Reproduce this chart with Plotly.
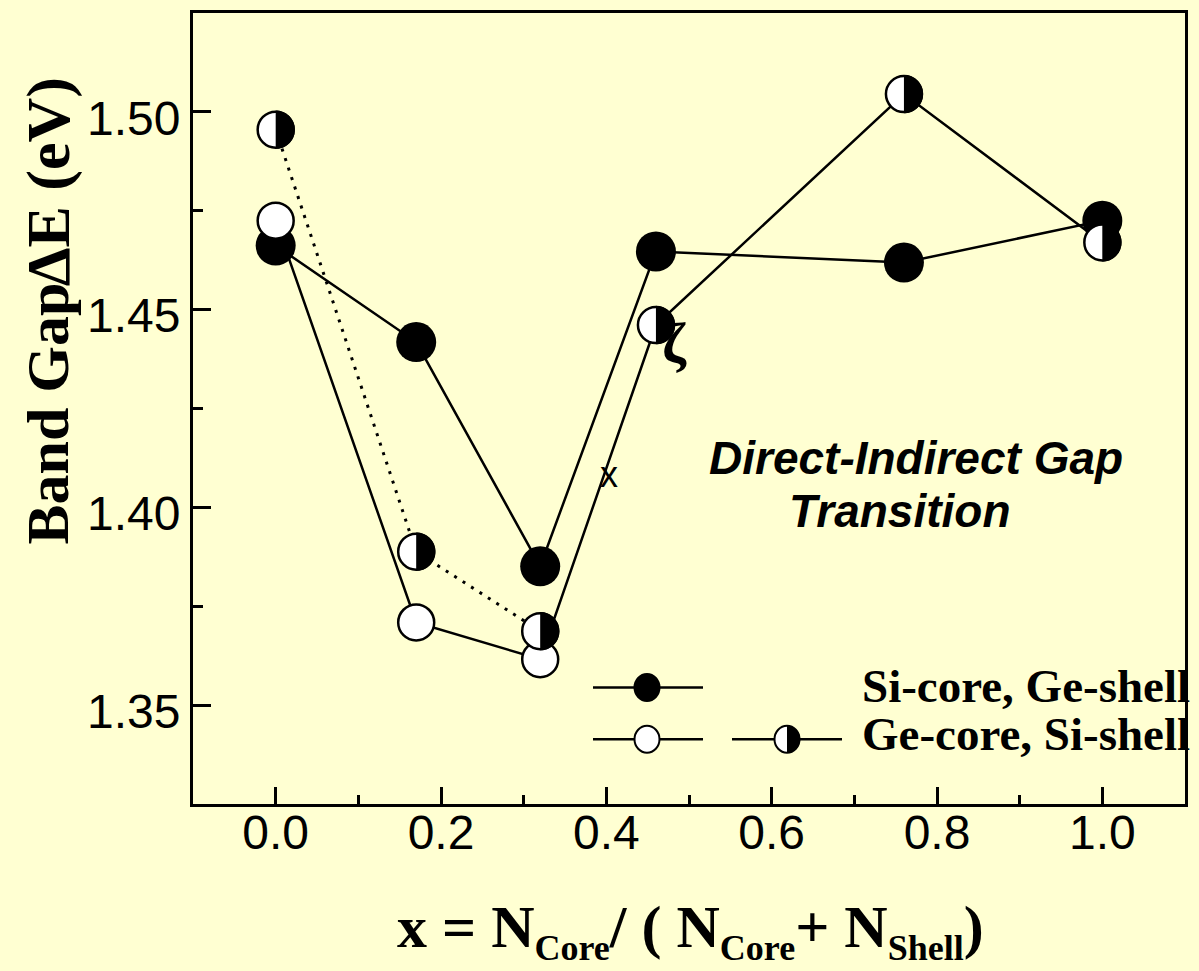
import numpy as np
import plotly.graph_objects as go

# ---------------- data ----------------
x_si = [0.0, 0.17, 0.32, 0.46, 0.76, 1.0]
y_si = [1.4662, 1.4418, 1.3851, 1.4647, 1.4619, 1.4725]

x_ge = [0.0, 0.17, 0.32, 0.46, 0.76, 1.0]
y_ge = [1.4725, 1.3709, 1.3616, 1.4461, 1.5045, 1.4670]
ge_kind = ["open", "open", "open", "half", "half", "half"]

x_ge_dot = [0.0, 0.17, 0.32]
y_ge_dot = [1.4955, 1.3888, 1.3687]

x_tickvals = [0.0, 0.2, 0.4, 0.6, 0.8, 1.0]
x_ticktext = ["0.0", "0.2", "0.4", "0.6", "0.8", "1.0"]
y_tickvals = [1.35, 1.40, 1.45, 1.50]
y_ticktext = ["1.35", "1.40", "1.45", "1.50"]

series_names = ["Si-core, Ge-shell", "Ge-core, Si-shell"]
note_lines = ["Direct-Indirect Gap", "Transition"]
mark_x_pos = (0.403, 1.4082)
mark_z_pos = (0.482, 1.4418)

# ---------------- geometry / style ----------------
W, H = 1199, 971
L, R, T, B = 193, 1185, 10, 804
BG = "#FFFFD2"
SERIF = "Liberation Serif"
SANS = "Liberation Sans"


def px(xp):
    return (xp - L) / (R - L)


def py(yp):
    return (B - yp) / (B - T)


def half_path(r):
    th = np.linspace(-np.pi / 2, np.pi / 2, 41)
    pts = ["M 0,%.2f" % (-r)]
    for t in th:
        pts.append("L %.2f,%.2f" % (r * np.cos(t), r * np.sin(t)))
    pts.append("Z")
    return " ".join(pts)


MS = 40
fig = go.Figure()

fig.add_trace(go.Scatter(
    x=x_si, y=y_si, mode="lines+markers", name=series_names[0],
    line=dict(color="black", width=2.5),
    marker=dict(size=MS, color="black", line=dict(width=0)),
    showlegend=False))

fig.add_trace(go.Scatter(
    x=x_ge, y=y_ge, mode="lines+markers", name=series_names[1],
    line=dict(color="black", width=2.5),
    marker=dict(size=MS - 4, color="white", line=dict(color="black", width=2.5)),
    showlegend=False))

fig.add_trace(go.Scatter(
    x=x_ge_dot, y=y_ge_dot, mode="lines+markers", name=series_names[1],
    line=dict(color="black", width=3, dash="3px,7px"),
    marker=dict(size=MS - 4, color="white", line=dict(color="black", width=2.5)),
    showlegend=False))

shapes = []
hp = half_path((MS - 4) / 2 + 1.2)
half_pts = [(x, y) for x, y, k in zip(x_ge, y_ge, ge_kind) if k == "half"]
half_pts += list(zip(x_ge_dot, y_ge_dot))
for x, y in half_pts:
    shapes.append(dict(type="path", xref="x", yref="y", xsizemode="pixel",
                       ysizemode="pixel", xanchor=x, yanchor=y, path=hp,
                       fillcolor="black", line=dict(width=0), layer="above"))

# ---------------- legend (custom) ----------------
def leg_line(x0, x1, y):
    shapes.append(dict(type="line", xref="paper", yref="paper",
                       x0=px(x0), x1=px(x1), y0=py(y), y1=py(y),
                       line=dict(color="black", width=2.5)))


def leg_circle(xc, yc, fill):
    shapes.append(dict(type="circle", xref="paper", yref="paper",
                       xsizemode="pixel", ysizemode="pixel",
                       xanchor=px(xc), yanchor=py(yc),
                       x0=-12.5, x1=12.5, y0=-13.5, y1=13.5,
                       fillcolor=fill, line=dict(color="black", width=2)))


leg_line(593, 703, 687)
leg_circle(647, 687, "black")
leg_line(593, 703, 739)
leg_circle(647, 739, "white")
leg_line(732, 842, 739)
leg_circle(787, 739, "white")
shapes.append(dict(type="path", xref="paper", yref="paper", xsizemode="pixel",
                   ysizemode="pixel", xanchor=px(787), yanchor=py(739),
                   path=half_path(13.2), fillcolor="black", line=dict(width=0)))

SUB = '<sub><span style="font-size:36px">%s</span></sub>'
xtitle = ("<b>x = N" + SUB % "Core" + "/ ( N" + SUB % "Core" + "+ N"
          + SUB % "Shell" + ")</b>")

annotations = [
    dict(xref="paper", yref="paper", x=px(1191), y=py(686), xanchor="right",
         yanchor="middle", text="<b>%s</b>" % series_names[0], showarrow=False,
         font=dict(family=SERIF, size=47, color="black"), borderpad=0),
    dict(xref="paper", yref="paper", x=px(1191), y=py(734), xanchor="right",
         yanchor="middle", text="<b>%s</b>" % series_names[1], showarrow=False,
         font=dict(family=SERIF, size=47, color="black"), borderpad=0),
    dict(xref="paper", yref="paper", x=px(916), y=py(457), xanchor="center",
         yanchor="middle", text="<b><i>%s</i></b>" % note_lines[0], showarrow=False,
         font=dict(family=SANS, size=46, color="black"), borderpad=0),
    dict(xref="paper", yref="paper", x=px(900), y=py(510), xanchor="center",
         yanchor="middle", text="<b><i>%s</i></b>" % note_lines[1], showarrow=False,
         font=dict(family=SANS, size=46, color="black"), borderpad=0),
    dict(xref="x", yref="y", x=mark_x_pos[0], y=mark_x_pos[1], text="x",
         showarrow=False, font=dict(family=SANS, size=36, color="black")),
    dict(xref="x", yref="y", x=mark_z_pos[0], y=mark_z_pos[1], text="<b>ζ</b>",
         showarrow=False, font=dict(family=SERIF, size=58, color="black")),
    # axis titles
    dict(xref="paper", yref="paper", x=px(48), y=py(412), xanchor="center",
         yanchor="middle", textangle=-90, text="<b>Band Gap</b>", showarrow=False,
         font=dict(family=SERIF, size=60, color="black"), borderpad=0),
    dict(xref="paper", yref="paper", x=px(48), y=py(180), xanchor="center",
         yanchor="middle", textangle=-90, text="<b>ΔE (eV)</b>", showarrow=False,
         font=dict(family=SERIF, size=62, color="black"), borderpad=0),
    dict(xref="paper", yref="paper", x=px(690), y=py(931), xanchor="center",
         yanchor="middle", text=xtitle,
         showarrow=False, font=dict(family=SERIF, size=60, color="black"),
         borderpad=0),
]

axis_common = dict(showline=True, linewidth=3, linecolor="black", mirror=True,
                   showgrid=False, zeroline=False, ticks="inside", tickwidth=3,
                   tickcolor="black",
                   tickfont=dict(family=SANS, size=48, color="black"))

fig.update_layout(
    width=W, height=H,
    margin=dict(l=L, r=W - R, t=T, b=H - B, pad=0),
    paper_bgcolor=BG, plot_bgcolor=BG,
    showlegend=False,
    xaxis=dict(range=[-0.1, 1.1], tickvals=x_tickvals, ticktext=x_ticktext,
               ticklen=17, ticklabelstandoff=-16,
               minor=dict(ticks="inside", ticklen=9, tickwidth=3,
                          tickcolor="black", dtick=0.1, tick0=0.0,
                          showgrid=False),
               **axis_common),
    yaxis=dict(range=[1.325, 1.525], tickvals=y_tickvals, ticktext=y_ticktext,
               ticklen=18, ticklabelshift=6,
               minor=dict(ticks="inside", ticklen=10, tickwidth=3,
                          tickcolor="black", dtick=0.025, tick0=1.35,
                          showgrid=False),
               **axis_common),
    shapes=shapes,
    annotations=annotations,
)

fig.write_html("out.html")
